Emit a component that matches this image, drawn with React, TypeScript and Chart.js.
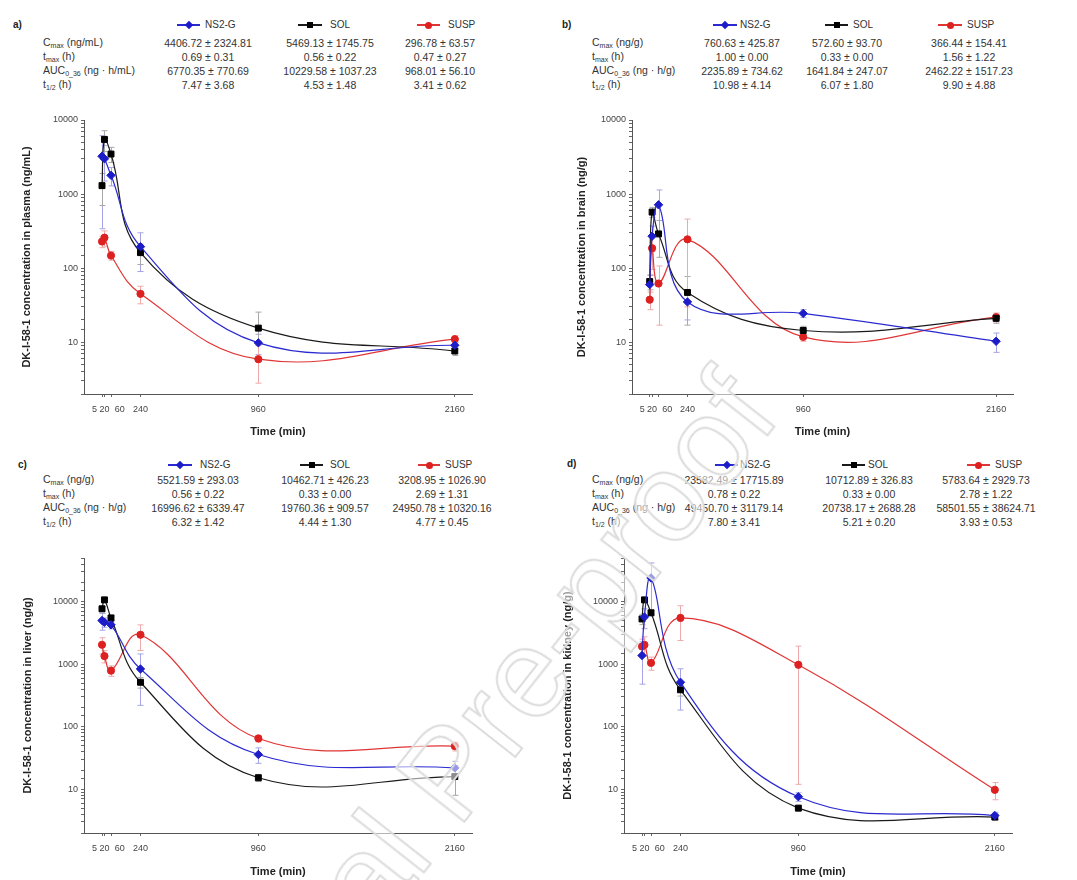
import React, { useEffect, useRef } from "react";
import { Chart, registerables } from "chart.js";
Chart.register(...registerables);

// ---------- DATA ----------
const times = [5, 20, 60, 240, 960, 2160];
const xTickValues = [5, 20, 60, 240, 960, 2160];
const xTickLabels = ["5      ", "20", "       60", "240", "960", "2160"];
const seriesNames = ["NS2-G", "SOL", "SUSP"];
const yMajorTicks = [10, 100, 1000, 10000];

// a) plasma
const plasmaNS2G = [3240, 3000, 1790, 195, 9.8, 9.1];
const plasmaNS2GErr = [2900, 1500, 500, 105, 3, 1];
const plasmaSOL = [1300, 5470, 3470, 162, 15.5, 7.6];
const plasmaSOLErr = [600, 1700, 800, 50, 10, 1];
const plasmaSUSP = [229, 258, 148, 45, 5.9, 11];
const plasmaSUSPErr = [40, 60, 20, 12, 3.1, 1.2];

// b) brain
const brainNS2G = [60, 270, 716, 35, 24.5, 10.3];
const brainNS2GErr = [20, 100, 420, 15, 3, 3];
const brainSOL = [66, 571, 290, 47, 14.4, 21];
const brainSOLErr = [15, 90, 150, 30, 2, 3];
const brainSUSP = [37.5, 186, 62, 245, 11.8, 21.8];
const brainSUSPErr = [10, 90, 45, 215, 1.5, 3];

// c) liver
const liverNS2G = [5000, 4700, 4270, 840, 36, 22];
const liverNS2GErr = [1500, 800, 600, 620, 10, 6];
const liverSOL = [7700, 10700, 5500, 515, 15.3, 16];
const liverSOLErr = [800, 500, 600, 100, 2, 8];
const liverSUSP = [2050, 1350, 790, 2960, 65, 49];
const liverSUSPErr = [600, 300, 150, 1300, 8, 8];

// d) kidney
const kidneyNS2G = [1380, 5700, 24000, 515, 7.6, 3.8];
const kidneyNS2GErr = [900, 2000, 17700, 330, 1.2, 0.5];
const kidneySOL = [5300, 10700, 6650, 390, 5.0, 3.6];
const kidneySOLErr = [1000, 300, 700, 80, 0.5, 0.4];
const kidneySUSP = [1920, 2040, 1050, 5500, 980, 9.8];
const kidneySUSPErr = [600, 700, 250, 3100, 968, 3];

// tables
const rowUnitsA = ["(ng/mL)", "(h)", "(ng · h/mL)", "(h)"];
const rowUnitsG = ["(ng/g)", "(h)", "(ng · h/g)", "(h)"];
const tableA = [
  ["4406.72 ± 2324.81", "5469.13 ± 1745.75", "296.78 ± 63.57"],
  ["0.69 ± 0.31", "0.56 ± 0.22", "0.47 ± 0.27"],
  ["6770.35 ± 770.69", "10229.58 ± 1037.23", "968.01 ± 56.10"],
  ["7.47 ± 3.68", "4.53 ± 1.48", "3.41 ± 0.62"],
];
const tableB = [
  ["760.63 ± 425.87", "572.60 ± 93.70", "366.44 ± 154.41"],
  ["1.00 ± 0.00", "0.33 ± 0.00", "1.56 ± 1.22"],
  ["2235.89 ± 734.62", "1641.84 ± 247.07", "2462.22 ± 1517.23"],
  ["10.98 ± 4.14", "6.07 ± 1.80", "9.90 ± 4.88"],
];
const tableC = [
  ["5521.59 ± 293.03", "10462.71 ± 426.23", "3208.95 ± 1026.90"],
  ["0.56 ± 0.22", "0.33 ± 0.00", "2.69 ± 1.31"],
  ["16996.62 ± 6339.47", "19760.36 ± 909.57", "24950.78 ± 10320.16"],
  ["6.32 ± 1.42", "4.44 ± 1.30", "4.77 ± 0.45"],
];
const tableD = [
  ["23582.49 ± 17715.89", "10712.89 ± 326.83", "5783.64 ± 2929.73"],
  ["0.78 ± 0.22", "0.33 ± 0.00", "2.78 ± 1.22"],
  ["49450.70 ± 31179.14", "20738.17 ± 2688.28", "58501.55 ± 38624.71"],
  ["7.80 ± 3.41", "5.21 ± 0.20", "3.93 ± 0.53"],
];

// ---------- STYLE ----------
const FONT = "'Liberation Sans', Arial, sans-serif";
const lineColors = ["#2a2ad0", "#1a1a1a", "#e03535"];
const pointColors = ["#1c1cc8", "#000000", "#dd2020"];
const errColors = ["#a4a4e6", "#a8a8a8", "#eeaaaa"];
const pointStyles = ["rectRot", "rect", "circle"];
const pointRadii = [4.2, 4.2, 3.6];
const X_MIN = -105;
const X_MAX = 2265;

const errorBarPlugin = {
  id: "errbars",
  beforeDatasetsDraw(chart: any) {
    const { ctx, chartArea } = chart;
    const x = chart.scales.x;
    const y = chart.scales.y;
    chart.data.datasets.forEach((ds: any) => {
      if (!ds.errors) return;
      ctx.save();
      ctx.strokeStyle = ds.errorColor;
      ctx.lineWidth = 1;
      ds.data.forEach((p: any, i: number) => {
        const e = ds.errors[i];
        if (!e) return;
        const px = Math.round(x.getPixelForValue(p.x)) + 0.5;
        const top = y.getPixelForValue(p.y + e);
        const low = p.y - e;
        const hasLow = low > y.min;
        const bottom = hasLow ? y.getPixelForValue(low) : chartArea.bottom;
        ctx.beginPath();
        ctx.moveTo(px, top);
        ctx.lineTo(px, bottom);
        ctx.moveTo(px - 3, top);
        ctx.lineTo(px + 3, top);
        if (hasLow) {
          ctx.moveTo(px - 3, bottom);
          ctx.lineTo(px + 3, bottom);
        }
        ctx.stroke();
      });
      ctx.restore();
    });
  },
};

type PanelCfg = {
  id: string;
  left: number;
  top: number;
  width: number;
  height: number;
  areaLeft: number;
  areaRight: number;
  areaTop: number;
  areaBottom: number;
  yMax: number;
  yTitle: string;
  yTitleX: number;
  series: number[][];
  errors: number[][];
};

const panels: PanelCfg[] = [
  {
    id: "a", left: 0, top: 100, width: 538, height: 340,
    areaLeft: 84, areaRight: 472, areaTop: 20, areaBottom: 294, yMax: 10000,
    yTitle: "DK-I-58-1 concentration in plasma (ng/mL)", yTitleX: 27,
    series: [plasmaNS2G, plasmaSOL, plasmaSUSP],
    errors: [plasmaNS2GErr, plasmaSOLErr, plasmaSUSPErr],
  },
  {
    id: "b", left: 538, top: 100, width: 539, height: 340,
    areaLeft: 94, areaRight: 475, areaTop: 20, areaBottom: 294, yMax: 10000,
    yTitle: "DK-I-58-1 concentration in brain (ng/g)", yTitleX: 44,
    series: [brainNS2G, brainSOL, brainSUSP],
    errors: [brainNS2GErr, brainSOLErr, brainSUSPErr],
  },
  {
    id: "c", left: 0, top: 540, width: 538, height: 340,
    areaLeft: 84, areaRight: 472, areaTop: 18, areaBottom: 293, yMax: 50000,
    yTitle: "DK-I-58-1 concentration in liver (ng/g)", yTitleX: 28,
    series: [liverNS2G, liverSOL, liverSUSP],
    errors: [liverNS2GErr, liverSOLErr, liverSUSPErr],
  },
  {
    id: "d", left: 538, top: 540, width: 539, height: 340,
    areaLeft: 86, areaRight: 474, areaTop: 18, areaBottom: 293, yMax: 50000,
    yTitle: "DK-I-58-1 concentration in kidney (ng/g)", yTitleX: 30,
    series: [kidneyNS2G, kidneySOL, kidneySUSP],
    errors: [kidneyNS2GErr, kidneySOLErr, kidneySUSPErr],
  },
];

function isPow10(v: number) {
  const l = Math.log10(v);
  return Math.abs(l - Math.round(l)) < 1e-9;
}

function PanelChart({ cfg }: { cfg: PanelCfg }) {
  const ref = useRef<HTMLCanvasElement>(null);
  useEffect(() => {
    const titleFont = { family: FONT, size: 11, weight: "bold" as const };
    const tickFont = { family: FONT, size: 9 };
    const chart = new Chart(ref.current as HTMLCanvasElement, {
      type: "line",
      data: {
        datasets: cfg.series.map((vals, si) => ({
          label: seriesNames[si],
          data: times.map((t, i) => ({ x: t, y: vals[i] })),
          errors: cfg.errors[si],
          errorColor: errColors[si],
          borderColor: lineColors[si],
          backgroundColor: pointColors[si],
          pointBackgroundColor: pointColors[si],
          pointBorderColor: pointColors[si],
          pointStyle: pointStyles[si],
          pointRadius: pointRadii[si],
          pointBorderWidth: 1,
          borderWidth: 1.2,
          tension: 0.4,
          fill: false,
        })) as any,
      },
      options: {
        animation: false,
        responsive: false,
        maintainAspectRatio: false,
        layout: {
          padding: { left: 0, top: cfg.areaTop, right: cfg.width - cfg.areaRight, bottom: 0 },
        },
        plugins: {
          legend: { display: false },
          tooltip: { enabled: false },
          title: { display: false },
        },
        scales: {
          x: {
            type: "linear",
            min: X_MIN,
            max: X_MAX,
            afterBuildTicks: (s: any) => {
              s.ticks = xTickValues.map((v) => ({ value: v }));
            },
            afterFit: (s: any) => {
              s.height = cfg.height - cfg.areaBottom;
            },
            ticks: {
              autoSkip: false,
              maxRotation: 0,
              minRotation: 0,
              padding: 7,
              color: "#444",
              font: tickFont,
              callback: (_v: any, i: number) => xTickLabels[i],
            },
            grid: { drawOnChartArea: false, drawTicks: true, tickLength: 3, color: "#666" },
            border: { display: true, color: "#555", width: 1 },
            title: {
              display: true,
              text: "Time (min)",
              color: "#222",
              font: titleFont,
              padding: { top: 0, bottom: 1.4 },
            },
          },
          y: {
            type: "logarithmic",
            min: 2,
            max: cfg.yMax,
            afterFit: (s: any) => {
              s.width = cfg.areaLeft;
            },
            ticks: {
              autoSkip: false,
              padding: 3,
              color: "#444",
              font: tickFont,
              callback: (v: any) => (isPow10(Number(v)) && yMajorTicks.includes(Math.round(Number(v))) ? String(Math.round(Number(v))) : ""),
            },
            grid: { drawOnChartArea: false, drawTicks: true, tickLength: 3, color: "#666" },
            border: { display: true, color: "#555", width: 1 },
            title: {
              display: true,
              text: cfg.yTitle,
              color: "#222",
              font: titleFont,
              padding: { top: cfg.yTitleX - 6.6, bottom: 0 },
            },
          },
        },
      } as any,
      plugins: [errorBarPlugin],
    });
    return () => chart.destroy();
  }, [cfg]);
  return (
    <canvas
      ref={ref}
      width={cfg.width}
      height={cfg.height}
      style={{ position: "absolute", left: cfg.left, top: cfg.top, width: cfg.width, height: cfg.height }}
    />
  );
}

type InfoCfg = {
  label: string;
  labelX: number;
  labelY: number;
  legendY: number;
  legendLines: number[][];
  legendTextX: number[];
  rowsY: number[];
  rowLabelX: number;
  colCenters: number[];
  units: string[];
  table: string[][];
};

const infos: InfoCfg[] = [
  {
    label: "a)", labelX: 13, labelY: 25, legendY: 25,
    legendLines: [[177, 200], [298, 322], [417, 440]], legendTextX: [205, 330, 448],
    rowsY: [43, 57, 71, 85], rowLabelX: 43, colCenters: [208, 330, 440],
    units: rowUnitsA, table: tableA,
  },
  {
    label: "b)", labelX: 562, labelY: 25, legendY: 25,
    legendLines: [[713, 737], [825, 848], [938, 962]], legendTextX: [740, 853, 967],
    rowsY: [43, 57, 71, 85], rowLabelX: 592, colCenters: [742, 847, 969],
    units: rowUnitsG, table: tableB,
  },
  {
    label: "c)", labelX: 18, labelY: 465, legendY: 465,
    legendLines: [[168, 192], [300, 323], [418, 440]], legendTextX: [200, 330, 445],
    rowsY: [480, 494, 508, 522], rowLabelX: 43, colCenters: [198, 325, 442],
    units: rowUnitsG, table: tableC,
  },
  {
    label: "d)", labelX: 567, labelY: 464, legendY: 465,
    legendLines: [[715, 738], [842, 865], [967, 990]], legendTextX: [740, 868, 995],
    rowsY: [480, 494, 508, 522], rowLabelX: 592, colCenters: [734, 869, 986],
    units: rowUnitsG, table: tableD,
  },
];

const subStyle: React.CSSProperties = { fontSize: "7px", verticalAlign: "-2px" };

function rowLabel(i: number, unit: string) {
  if (i === 0) return (<span>C<span style={subStyle}>max</span> {unit}</span>);
  if (i === 1) return (<span>t<span style={subStyle}>max</span> {unit}</span>);
  if (i === 2) return (<span>AUC<span style={subStyle}>0_36</span> {unit}</span>);
  return (<span>t<span style={subStyle}>1/2</span> {unit}</span>);
}

function Marker({ si, cx, cy }: { si: number; cx: number; cy: number }) {
  const c = pointColors[si];
  if (si === 0) {
    return <div style={{ position: "absolute", left: cx - 3, top: cy - 3, width: 6, height: 6, background: c, transform: "rotate(45deg)" }} />;
  }
  if (si === 1) {
    return <div style={{ position: "absolute", left: cx - 3, top: cy - 3, width: 6, height: 6, background: c }} />;
  }
  return <div style={{ position: "absolute", left: cx - 3.5, top: cy - 3.5, width: 7, height: 7, borderRadius: "50%", background: c }} />;
}

function Info({ info }: { info: InfoCfg }) {
  const base: React.CSSProperties = { position: "absolute", whiteSpace: "nowrap", lineHeight: "1", fontFamily: FONT, color: "#333" };
  return (
    <>
      <div style={{ ...base, left: info.labelX, top: info.labelY, transform: "translateY(-50%)", fontSize: 10, fontWeight: "bold", color: "#222" }}>{info.label}</div>
      {seriesNames.map((name, si) => {
        const [x1, x2] = info.legendLines[si];
        return (
          <React.Fragment key={name}>
            <div style={{ position: "absolute", left: x1, top: info.legendY - 0.6, width: x2 - x1, height: 1.2, background: lineColors[si] }} />
            <Marker si={si} cx={(x1 + x2) / 2} cy={info.legendY} />
            <div style={{ ...base, left: info.legendTextX[si], top: info.legendY, transform: "translateY(-50%)", fontSize: 10 }}>{name}</div>
          </React.Fragment>
        );
      })}
      {info.rowsY.map((ry, ri) => (
        <React.Fragment key={ri}>
          <div style={{ ...base, left: info.rowLabelX, top: ry, transform: "translateY(-50%)", fontSize: 10.5 }}>{rowLabel(ri, info.units[ri])}</div>
          {info.table[ri].map((txt, ci) => (
            <div key={ci} style={{ ...base, left: info.colCenters[ci], top: ry, transform: "translate(-50%,-50%)", fontSize: 10.5 }}>{txt}</div>
          ))}
        </React.Fragment>
      ))}
    </>
  );
}

export default function App() {
  return (
    <div style={{ position: "absolute", left: 0, top: 0, width: 1077, height: 880, background: "#fff", overflow: "hidden" }}>
      {panels.map((p) => (
        <PanelChart key={p.id} cfg={p} />
      ))}
      {infos.map((inf) => (
        <Info key={inf.label} info={inf} />
      ))}
      <div
        style={{
          position: "absolute",
          left: 448,
          top: 773,
          transform: "translate(-50%,-50%) rotate(-51.8deg)",
          fontFamily: FONT,
          fontSize: 126,
          lineHeight: "1",
          whiteSpace: "nowrap",
          color: "rgba(255,255,255,0.55)",
          WebkitTextStroke: "2px #dcdcdc",
          pointerEvents: "none",
        }}
      >
        Journal Pre-proof
      </div>
    </div>
  );
}
